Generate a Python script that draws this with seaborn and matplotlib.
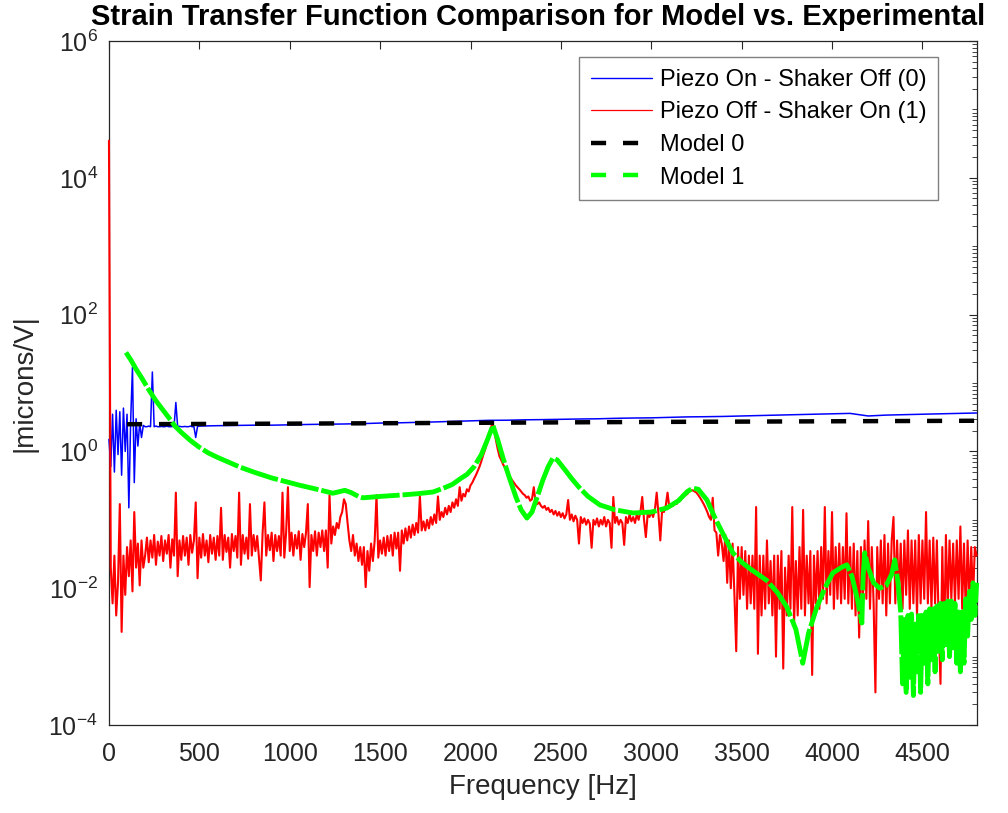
import numpy as np
import pandas as pd
import matplotlib
matplotlib.use("Agg")
import matplotlib.pyplot as plt
from matplotlib.lines import Line2D
from matplotlib.ticker import LogLocator, FixedLocator, NullFormatter
import seaborn as sns

sns.set_style("white")
plt.rcParams['font.family'] = ['Liberation Sans', 'DejaVu Sans']
plt.rcParams['mathtext.fontset'] = 'custom'
plt.rcParams['mathtext.rm'] = 'Liberation Sans'
plt.rcParams['mathtext.it'] = 'Liberation Sans'
plt.rcParams['axes.unicode_minus'] = False

# ---------------- data ----------------
title = "Strain Transfer Function Comparison for Model vs. Experimental"
x_label = "Frequency [Hz]"
y_label = "|microns/V|"
series_names = ["Piezo On - Shaker Off (0)", "Piezo Off - Shaker On (1)", "Model 0", "Model 1"]
x_ticks = [0, 500, 1000, 1500, 2000, 2500, 3000, 3500, 4000, 4500]
y_ticks = [1e-4, 1e-2, 1e0, 1e2, 1e4, 1e6]

# Experimental: piezo on, shaker off (blue)
blue_freq_lo = np.arange(0, 500, 10)
blue_val_lo = [1.5, 0.6, 3.5, 0.5, 4.0, 0.9, 3.8, 0.45, 4.3, 1.0,
               3.5, 0.15, 2.8, 17.0, 0.35, 3.0, 1.2, 2.6, 1.6, 2.4,
               2.3, 2.3, 2.35, 2.3, 14.5, 2.3, 2.35, 2.3, 2.3, 2.32,
               2.3, 2.3, 2.35, 2.3, 2.3, 2.32, 2.3, 5.2, 2.3, 2.33,
               2.3, 2.3, 2.32, 2.3, 2.3, 2.35, 2.3, 2.3, 1.6, 2.32]
blue_freq_hi = np.arange(500, 4900, 100)
blue_val_hi = [2.35, 2.38, 2.4, 2.42, 2.42, 2.45, 2.48, 2.5, 2.52, 2.55,
               2.6, 2.62, 2.66, 2.7, 2.75, 2.8, 2.85, 2.86, 2.9, 2.92,
               2.95, 2.98, 3.0, 3.05, 3.08, 3.1, 3.15, 3.2, 3.22, 3.25,
               3.3, 3.35, 3.4, 3.45, 3.5, 3.55, 3.6, 3.3, 3.4, 3.45,
               3.5, 3.55, 3.6, 3.65]

# Experimental: piezo off, shaker on (red), 10 Hz bins, one row per 200 Hz
red_freq = np.arange(0, 4810, 10)
red_val = [
    35000, .02, .006, .03, .004, .012, .17, .0023, .03, .008, .04, .015, .05, .009, .13, .02, .045, .011, .05, .02,
    .03, .055, .024, .05, .028, .06, .022, .048, .03, .058, .025, .05, .032, .06, .02, .052, .03, .25, .015, .05,
    .026, .058, .03, .055, .022, .06, .033, .05, .18, .014, .055, .028, .062, .03, .05, .024, .06, .032, .055, .026,
    .058, .03, .15, .026, .06, .034, .055, .02, .062, .035, .058, .028, .25, .022, .06, .032, .055, .027, .17, .03,
    .06, .035, .058, .028, .013, .065, .18, .03, .06, .036, .065, .025, .06, .035, .058, .03, .25, .028, .065, .3,
    .035, .065, .03, .06, .038, .068, .026, .062, .04, .065, .17, .0104, .06, .035, .068, .03, .065, .04, .07, .035,
    .07, .02, .23, .045, .08, .06, .09, .075, .11, .13, .2, .17, .09, .05, .035, .06, .03, .045, .025, .04,
    .022, .04, .0104, .035, .018, .045, .025, .05, .23, .028, .05, .032, .055, .03, .058, .035, .06, .03, .065, .038,
    .065, .018, .07, .045, .075, .05, .08, .055, .085, .06, .09, .065, .22, .07, .095, .07, .1, .075, .11, .085,
    .12, .09, .22, .1, .13, .11, .15, .12, .16, .13, .18, .15, .2, .16, .3, .19, .24, .22, .28, .26,
    .32, .35, .4, .45, .52, .6, .72, .88, 1.05, 1.3, 1.6, 2.0, 2.6, 2.2, 1.5, 1.1, .85, .75, .65, .58,
    .52, .46, .42, .38, .35, .32, .3, .28, .26, .24, .23, .21, .22, .19, .2, .3, .18, .17, .18, .16,
    .15, .16, .14, .15, .13, .14, .12, .135, .115, .13, .11, .125, .105, .12, .195, .1, .12, .095, .115, .1,
    .045, .11, .09, .105, .085, .1, .088, .039, .1, .085, .105, .08, .1, .085, .11, .08, .1, .09, .039, .216,
    .09, .11, .085, .1, .09, .043, .11, .09, .12, .095, .11, .09, .12, .1, .13, .216, .1, .056, .12, .11,
    .13, .11, .14, .25, .12, .05, .14, .13, .16, .25, .15, .17, .16, .18, .17, .2, .19, .21, .22, .23,
    .24, .26, .27, .27, .26, .25, .23, .21, .19, .17, .15, .13, .11, .1, .21, .07, .065, .03, .06, .045,
    .025, .06, .012, .05, .01, .045, .008, .0012, .04, .007, .04, .008, .035, .005, .03, .006, .03, .005, .154, .0011,
    .03, .004, .03, .005, .05, .006, .025, .004, .03, .001, .03, .005, .035, .00067, .02, .004, .03, .005, .154, .003,
    .025, .004, .04, .005, .14, .004, .03, .006, .035, .00054, .03, .006, .035, .005, .04, .007, .154, .006, .035, .008,
    .13, .005, .04, .007, .045, .006, .04, .007, .125, .006, .04, .005, .045, .004, .035, .0019, .04, .006, .05, .007,
    .096, .005, .04, .006, .0003, .04, .007, .05, .006, .06, .004, .045, .006, .05, .11, .006, .05, .007, .045, .005,
    .05, .008, .07, .005, .05, .006, .05, .004, .06, .006, .05, .007, .13, .006, .05, .005, .055, .006, .05, .003,
    .0004, .04, .0015, .06, .005, .05, .007, .045, .006, .05, .007, .08, .005, .045, .004, .05, .006, .04, .007, .04,
    .03]

# Model 0 (black dashed)
model0_freq = [100, 1000, 2000, 3000, 4000, 4800]
model0_val = [2.5, 2.55, 2.62, 2.7, 2.76, 2.81]

# Model 1 (green dashed)
model1_freq = [94, 120, 150, 180, 220, 260, 300, 340, 365, 400,
               450, 500, 550, 600, 650, 725, 800, 900, 1000, 1056,
               1150, 1239, 1280, 1305, 1340, 1380, 1405, 1450, 1500, 1610,
               1700, 1792, 1850, 1900, 1950, 1980, 2020, 2060, 2090, 2124,
               2150, 2180, 2210, 2250, 2280, 2312, 2340, 2370, 2400, 2430,
               2456, 2480, 2520, 2560, 2600, 2650, 2716, 2800, 2898, 3000,
               3086, 3150, 3200, 3230, 3260, 3308, 3350, 3400, 3451, 3500,
               3550, 3639, 3700, 3750, 3800, 3838, 3870, 3916, 3960, 4004,
               4050, 4082, 4110, 4140, 4165, 4172, 4181, 4200, 4230, 4264,
               4300, 4330, 4347, 4365, 4380,
               4390, 4400, 4410, 4420, 4430, 4440, 4450, 4460, 4470, 4480,
               4490, 4500, 4510, 4520, 4530, 4540, 4550, 4560, 4570, 4580,
               4590, 4600, 4610, 4620, 4630, 4640, 4650, 4660, 4670, 4680,
               4690, 4700, 4710, 4720, 4730, 4740, 4750, 4760, 4770, 4780,
               4790, 4800]
model1_val = [28, 22, 16, 12, 8, 5.5, 4, 2.9, 2.35, 1.9,
              1.45, 1.15, 0.95, 0.82, 0.72, 0.59, 0.5, 0.41, 0.35, 0.32,
              0.28, 0.245, 0.26, 0.27, 0.25, 0.22, 0.21, 0.215, 0.22, 0.23,
              0.24, 0.255, 0.29, 0.33, 0.41, 0.46, 0.6, 0.9, 1.4, 2.4,
              1.5, 0.8, 0.45, 0.22, 0.14, 0.106, 0.13, 0.22, 0.38, 0.6,
              0.8, 0.75, 0.55, 0.4, 0.3, 0.22, 0.165, 0.14, 0.126, 0.13,
              0.149, 0.19, 0.26, 0.29, 0.28, 0.195, 0.11, 0.06, 0.033, 0.024,
              0.019, 0.013, 0.0085, 0.0053, 0.0025, 0.0008, 0.0022, 0.0053, 0.01, 0.0167,
              0.02, 0.022, 0.015, 0.007, 0.0031, 0.015, 0.033, 0.02, 0.012, 0.01,
              0.011, 0.016, 0.026, 0.012, 0.0044,
              0.0004, 0.0035, 0.0003, 0.004, 0.0005, 0.0042, 0.00027, 0.003, 0.0006, 0.0044,
              0.0003, 0.004, 0.0008, 0.0045, 0.0004, 0.005, 0.0009, 0.005, 0.0006, 0.0055,
              0.0012, 0.006, 0.0009, 0.006, 0.0015, 0.0065, 0.001, 0.0065, 0.0012, 0.006,
              0.0008, 0.0045, 0.0006, 0.0045, 0.0008, 0.007, 0.002, 0.009, 0.0035, 0.012,
              0.004, 0.012]

# ---------------- figure ----------------
fig = plt.figure(figsize=(10.08, 8.13), dpi=100)
ax = fig.add_axes([0.1081, 0.1082, 0.8608, 0.8413])

blue_df = pd.DataFrame({"freq": np.concatenate([blue_freq_lo, blue_freq_hi]),
                        "val": blue_val_lo + blue_val_hi})
red_df = pd.DataFrame({"freq": red_freq, "val": red_val})
m0_df = pd.DataFrame({"freq": model0_freq, "val": model0_val})
m1_df = pd.DataFrame({"freq": model1_freq, "val": model1_val})

sns.lineplot(data=blue_df, x="freq", y="val", ax=ax, color="#0000ff", linewidth=1.1,
             estimator=None, sort=False, legend=False, zorder=3.0)
sns.lineplot(data=red_df, x="freq", y="val", ax=ax, color="#ff0000", linewidth=1.5,
             estimator=None, sort=False, legend=False, zorder=3.1)
sns.lineplot(data=m0_df, x="freq", y="val", ax=ax, color="black", linewidth=3.2,
             linestyle=(0, (3.4, 3.8)), estimator=None, sort=False, legend=False, zorder=3.2)
sns.lineplot(data=m1_df, x="freq", y="val", ax=ax, color="#00ff00", linewidth=3.5,
             linestyle=(0, (8, 0.6)), estimator=None, sort=False, legend=False, zorder=3.3)
for ln in ax.get_lines():
    ln.set_clip_on(False)

ax.set_yscale("log")
ax.set_xlim(0, 4800)
ax.set_ylim(1e-4, 1e6)
ax.xaxis.set_major_locator(FixedLocator(x_ticks))
ax.yaxis.set_major_locator(FixedLocator(y_ticks))
ax.yaxis.set_minor_locator(LogLocator(base=10, subs=np.arange(1, 10), numticks=40))
ax.yaxis.set_minor_formatter(NullFormatter())

tc = "#262626"
for s in ax.spines.values():
    s.set_color(tc)
    s.set_linewidth(0.9)
ax.tick_params(axis="both", which="both", direction="in", top=True, right=True,
               color=tc, labelcolor=tc)
ax.tick_params(axis="x", which="major", length=6, width=0.8, labelsize=18, pad=12)
ax.tick_params(axis="y", which="major", length=6, width=0.8, labelsize=18, pad=8)
ax.tick_params(axis="y", which="minor", length=3.5, width=0.6)

ax.set_xlabel(x_label, fontsize=20, color=tc, labelpad=6)
ax.set_ylabel(y_label, fontsize=20, color=tc, labelpad=8)
fig.text(538 / 1008, 1 - 25 / 813, title, ha="center", va="baseline",
         fontsize=21, fontweight="bold", color="black")

handles = [
    Line2D([], [], color="#0000ff", linewidth=1.0),
    Line2D([], [], color="#ff0000", linewidth=0.9),
    Line2D([], [], color="black", linewidth=3.2, linestyle=(0, (3.4, 3.8))),
    Line2D([], [], color="#00ff00", linewidth=3.2, linestyle=(0, (3.4, 3.8))),
]
leg = ax.legend(handles, series_names, loc="upper right",
                bbox_to_anchor=(938 / 1008, 1 - 57 / 813), bbox_transform=fig.transFigure,
                borderaxespad=0, fontsize=17, handlelength=2.6, handletextpad=0.3,
                labelspacing=0.45, borderpad=0.5, fancybox=False, framealpha=1)
leg.set_zorder(10)
leg.get_frame().set_edgecolor("#808080")
leg.get_frame().set_linewidth(1.0)
for t in leg.get_texts():
    t.set_color("black")

fig.savefig("out.png", dpi=100)
